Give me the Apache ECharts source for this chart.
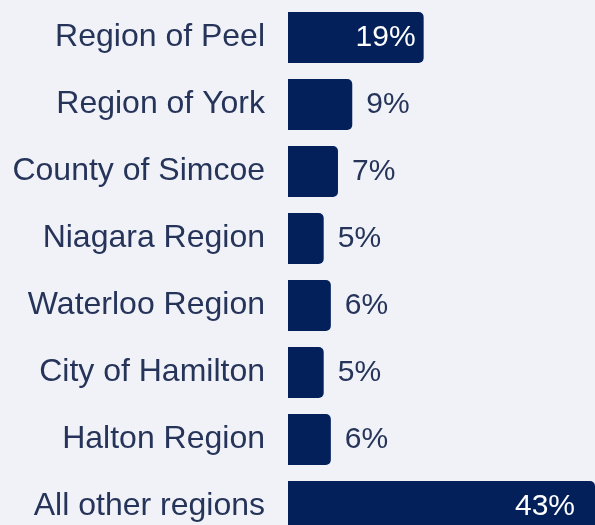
<!DOCTYPE html>
<html>
<head>
<meta charset="utf-8">
<script src="https://cdn.jsdelivr.net/npm/echarts@6/dist/echarts.min.js"></script>
<style>
  html, body { margin: 0; padding: 0; background: #f0f2f7; }
  #chart { width: 595px; height: 525px; }
</style>
</head>
<body>
<div id="chart"></div>
<script>
const regions = ['Region of Peel', 'Region of York', 'County of Simcoe', 'Niagara Region',
  'Waterloo Region', 'City of Hamilton', 'Halton Region', 'All other regions'];
const shares = [19, 9, 7, 5, 6, 5, 6, 43];

const navy = '#03205a';
const textColor = '#26345a';
const font = 'Liberation Sans, Arial, sans-serif';

const chart = echarts.init(document.getElementById('chart'));
chart.setOption({
  backgroundColor: '#f0f2f7',
  animation: false,
  grid: { left: 288, right: 0, top: 4, bottom: -15, outerBoundsMode: 'none' },
  xAxis: { type: 'value', min: 0, max: 43, show: false },
  yAxis: {
    type: 'category',
    data: regions,
    inverse: true,
    axisLine: { show: false },
    axisTick: { show: false },
    axisLabel: { color: textColor, fontFamily: font, fontSize: 32, margin: 23 }
  },
  series: [{
    type: 'bar',
    barWidth: 51,
    itemStyle: { color: navy, borderRadius: [0, 5, 5, 0] },
    label: {
      show: true,
      position: 'right',
      distance: 14,
      formatter: '{c}%',
      color: textColor,
      fontFamily: font,
      fontSize: 30
    },
    data: shares.map(v => v > 15
      ? { value: v, label: { position: 'insideRight', distance: v > 30 ? 20 : 8, color: '#ffffff' } }
      : v)
  }]
});
</script>
</body>
</html>
